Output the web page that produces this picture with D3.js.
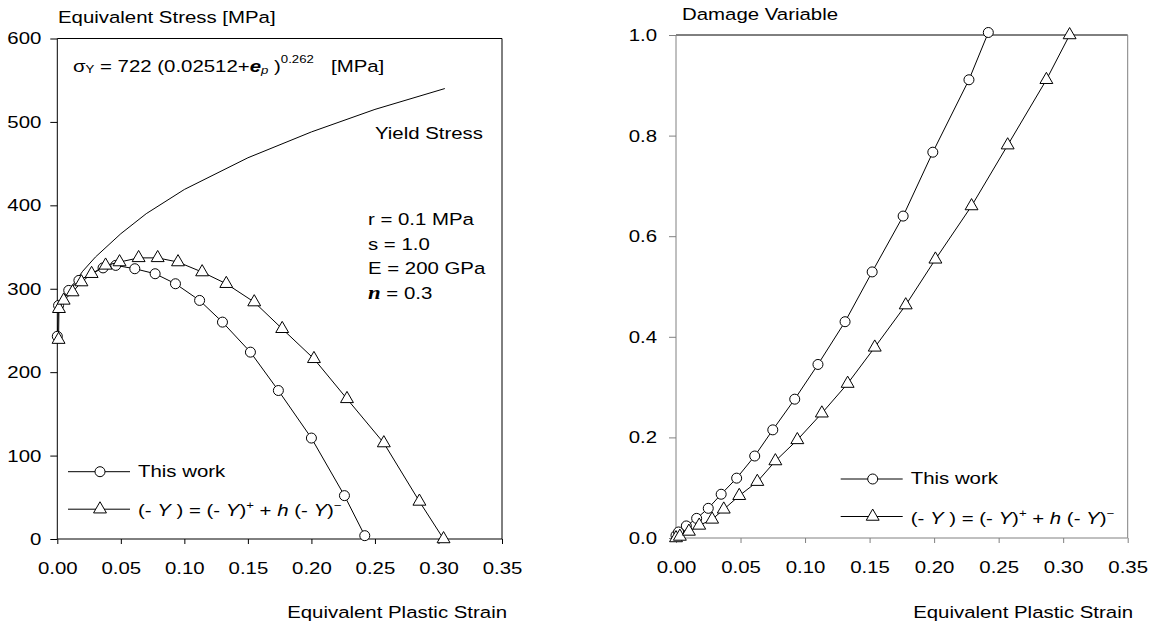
<!doctype html>
<html>
  <head>
    <meta charset="utf-8">
    <title>Stress and damage</title>
    <script src="https://d3js.org/d3.v7.min.js"></script>
    <style type="text/css">
      body { margin: 0; background-color: #ffffff; }
      text { font-family: "Liberation Sans", Arial, sans-serif; font-size: 17px; fill: #000; }
    </style>
  </head>
  <body>
    <script>
      // tick values
      var strainTicks = [0, 0.05, 0.10, 0.15, 0.20, 0.25, 0.30, 0.35];
      var stressTicks = [0, 100, 200, 300, 400, 500, 600];
      var damageTicks = [0, 0.2, 0.4, 0.6, 0.8, 1.0];

      // yield stress curve (left)
      var yieldStrain = [0, 0.005, 0.01, 0.02, 0.03, 0.05, 0.07, 0.10, 0.15, 0.20, 0.25, 0.305];
      var yieldStress = [275, 288, 300, 321, 338, 366, 390, 419, 457, 488, 515, 540];

      // "This work" (left)
      var workStrainL = [0.0, 0.001, 0.009, 0.017, 0.036, 0.046, 0.061, 0.077, 0.093, 0.112, 0.130, 0.152, 0.174, 0.200, 0.226, 0.242];
      var workStressL = [243, 280, 298, 310, 325, 328, 324, 318, 306, 286, 260, 224, 178, 121, 52, 4];

      // (-Y) model (left)
      var modelStrainL = [0.001, 0.0013, 0.005, 0.012, 0.019, 0.027, 0.038, 0.049, 0.064, 0.079, 0.095, 0.114, 0.133, 0.155, 0.177, 0.202, 0.228, 0.257, 0.285, 0.304];
      var modelStressL = [239, 276, 286, 296, 308, 318, 328, 332, 337, 337, 332, 320, 306, 284, 252, 216, 168, 115, 45, 0];

      // "This work" (right)
      var workStrainR = [0.0, 0.002, 0.008, 0.016, 0.025, 0.035, 0.047, 0.061, 0.075, 0.092, 0.110, 0.131, 0.152, 0.176, 0.199, 0.227, 0.242];
      var workDamageR = [0.005, 0.012, 0.024, 0.039, 0.059, 0.087, 0.119, 0.163, 0.215, 0.276, 0.345, 0.430, 0.529, 0.640, 0.767, 0.911, 1.005];

      // (-Y) model (right)
      var modelStrainR = [0, 0.003, 0.010, 0.018, 0.028, 0.037, 0.049, 0.063, 0.077, 0.094, 0.113, 0.133, 0.154, 0.178, 0.201, 0.229, 0.257, 0.287, 0.305];
      var modelDamageR = [0, 0.003, 0.013, 0.025, 0.037, 0.057, 0.084, 0.112, 0.153, 0.195, 0.248, 0.307, 0.379, 0.463, 0.554, 0.660, 0.781, 0.911, 1.0];

      var w = 1156, h = 626;
      var SX = 1.2; // glyphs in the picture are wider than tall

      var svg = d3.select("body").append("svg")
        .attr("width", w)
        .attr("height", h);

      // scales
      var xL = d3.scaleLinear().domain([0, 0.35]).range([57.3, 502]);
      var yL = d3.scaleLinear().domain([0, 600]).range([539, 38.5]);
      var xR = d3.scaleLinear().domain([0, 0.35]).range([676, 1127.7]);
      var yR = d3.scaleLinear().domain([0, 1]).range([538, 35]);

      function zip(a, b) { return a.map(function(v, i) { return [v, b[i]]; }); }

      // stretched text helper
      function label(g, x, y, anchor) {
        return g.append("text")
          .attr("text-anchor", anchor || "start")
          .attr("transform", "translate(" + x + "," + y + ") scale(" + SX + ",1)");
      }

      function stretchTicks(axisG) {
        axisG.selectAll(".tick text").each(function() {
          var t = d3.select(this);
          var x = +t.attr("x") || 0;
          t.attr("x", x / SX).attr("transform", "scale(" + SX + ",1)");
        });
        axisG.select(".domain").remove();
      }

      function drawFrame(x, y, col, yTicks, yFmt, ylabPad) {
        var g = svg.append("g");
        var x0 = x.range()[0], x1 = x.range()[1];
        var y0 = y.range()[0], y1 = y.range()[1];
        // top black
        g.append("line").attr("x1", x0).attr("x2", x1).attr("y1", y1).attr("y2", y1)
          .attr("stroke", "#000");
        g.append("line").attr("x1", x1).attr("x2", x1).attr("y1", y1).attr("y2", y0)
          .attr("stroke", col);
        g.append("line").attr("x1", x0).attr("x2", x0).attr("y1", y1).attr("y2", y0)
          .attr("stroke", col);
        g.append("line").attr("x1", x0).attr("x2", x1).attr("y1", y0).attr("y2", y0)
          .attr("stroke", col);

        var ax = g.append("g").attr("transform", "translate(0," + y0 + ")")
          .call(d3.axisBottom(x).tickValues(strainTicks).tickFormat(d3.format(".2f"))
            .tickSize(5).tickPadding(18));
        ax.selectAll("text").style("font-size", "17px").style("font-family", "Liberation Sans, Arial");
        ax.selectAll("line").attr("stroke", col);
        stretchTicks(ax);

        var ay = g.append("g").attr("transform", "translate(" + x0 + ",0)")
          .call(d3.axisLeft(y).tickValues(yTicks).tickFormat(yFmt)
            .tickSize(7).tickPadding(ylabPad));
        ay.selectAll("text").style("font-size", "17px").style("font-family", "Liberation Sans, Arial");
        ay.selectAll("line").attr("stroke", col);
        stretchTicks(ay);
        return g;
      }

      function drawSeries(x, y, pts, shape) {
        var g = svg.append("g");
        g.append("path")
          .datum(pts)
          .attr("d", d3.line().x(function(d) { return x(d[0]); }).y(function(d) { return y(d[1]); }))
          .attr("fill", "none").attr("stroke", "#000").attr("stroke-width", 1);
        if (shape === "circle") {
          g.selectAll("circle").data(pts).enter().append("circle")
            .attr("cx", function(d) { return x(d[0]); })
            .attr("cy", function(d) { return y(d[1]); })
            .attr("r", 5)
            .attr("fill", "#fff").attr("stroke", "#000");
        } else if (shape === "triangle") {
          g.selectAll("path.tri").data(pts).enter().append("path")
            .attr("class", "tri")
            .attr("d", d3.symbol(d3.symbolTriangle).size(72))
            .attr("transform", function(d) { return "translate(" + x(d[0]) + "," + y(d[1]) + ")"; })
            .attr("fill", "#fff").attr("stroke", "#000");
        }
      }

      function legendText(t) {
        t.append("tspan").text("(- ");
        t.append("tspan").attr("font-style", "italic").text("Y");
        t.append("tspan").text(" ) = (- ");
        t.append("tspan").attr("font-style", "italic").text("Y");
        t.append("tspan").text(")");
        t.append("tspan").attr("font-size", "11px").attr("dy", -7).text("+");
        t.append("tspan").attr("dy", 7).text(" + ");
        t.append("tspan").attr("font-style", "italic").text("h");
        t.append("tspan").text(" (- ");
        t.append("tspan").attr("font-style", "italic").text("Y");
        t.append("tspan").text(")");
        t.append("tspan").attr("font-size", "11px").attr("dy", -7).text("\u2212");
      }

      function drawLegend(x0, y0) {
        var g = svg.append("g");
        var tri = d3.symbol(d3.symbolTriangle).size(72);
        // row 1
        g.append("line").attr("x1", x0).attr("x2", x0 + 62).attr("y1", y0).attr("y2", y0).attr("stroke", "#000");
        g.append("circle").attr("cx", x0 + 32).attr("cy", y0).attr("r", 5).attr("fill", "#fff").attr("stroke", "#000");
        label(g, x0 + 70, y0 + 5).text("This work");
        // row 2
        var y1 = y0 + 37.5;
        g.append("line").attr("x1", x0).attr("x2", x0 + 62).attr("y1", y1).attr("y2", y1).attr("stroke", "#000");
        g.append("path").attr("d", tri).attr("transform", "translate(" + (x0 + 32) + "," + y1 + ")")
          .attr("fill", "#fff").attr("stroke", "#000");
        legendText(label(g, x0 + 70, y1 + 7));
      }

      // ---------- left panel ----------
      drawFrame(xL, yL, "#000", stressTicks, d3.format("d"), 9);
      drawSeries(xL, yL, zip(yieldStrain, yieldStress), "none");
      drawSeries(xL, yL, zip(workStrainL, workStressL), "circle");
      drawSeries(xL, yL, zip(modelStrainL, modelStressL), "triangle");
      drawLegend(68, 471.7);

      var lt = svg.append("g");
      label(lt, 58, 23).text("Equivalent Stress [MPa]");
      label(lt, 507, 618, "end").text("Equivalent Plastic Strain");
      label(lt, 483, 139, "end").text("Yield Stress");

      // yield law
      var f = label(lt, 73, 72);
      f.append("tspan").text("\u03c3");
      f.append("tspan").attr("font-size", "11px").attr("dy", 1).text("Y");
      f.append("tspan").attr("dy", -1).text(" = 722 (0.02512+");
      f.append("tspan").attr("font-style", "italic").attr("font-weight", "bold").text("e");
      f.append("tspan").attr("font-style", "italic").attr("font-size", "11px").attr("dy", 2).text("p");
      f.append("tspan").attr("dy", -2).text(" )");
      f.append("tspan").attr("font-size", "11px").attr("dy", -9).text("0.262");
      f.append("tspan").attr("dy", 9).attr("x", 258 / SX).text("[MPa]");

      var params = ["r = 0.1 MPa", "s = 1.0", "E = 200 GPa"];
      params.forEach(function(p, i) {
        label(lt, 368, 225 + i * 24.5).text(p);
      });
      var nu = label(lt, 368, 298.5);
      nu.append("tspan").attr("font-family", "Liberation Serif, serif")
        .attr("font-style", "italic").attr("font-weight", "bold").attr("font-size", "19px").text("n");
      nu.append("tspan").text(" = 0.3");

      // ---------- right panel ----------
      drawFrame(xR, yR, "#808080", damageTicks, d3.format(".1f"), 12);
      drawSeries(xR, yR, zip(workStrainR, workDamageR), "circle");
      drawSeries(xR, yR, zip(modelStrainR, modelDamageR), "triangle");
      drawLegend(840.7, 479);

      var rt = svg.append("g");
      label(rt, 682, 20).text("Damage Variable");
      label(rt, 1133, 618, "end").text("Equivalent Plastic Strain");
    </script>
  </body>
</html>
